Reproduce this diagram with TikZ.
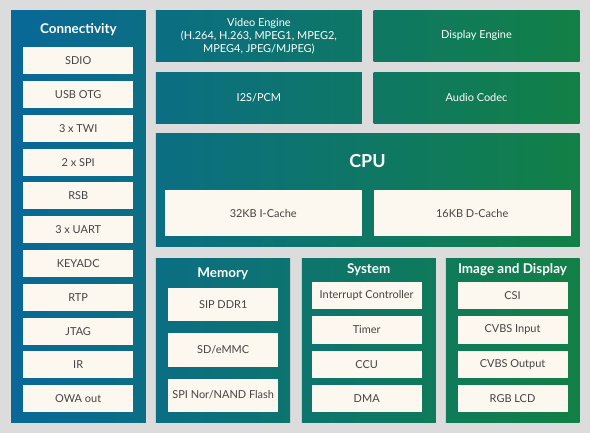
\documentclass[tikz,border=0pt]{standalone}
\usepackage{fontspec}
\setmainfont{Lato}
\definecolor{bg}{RGB}{220,220,220}
\definecolor{blueC}{RGB}{9,104,152}
\definecolor{greenC}{RGB}{18,128,70}
\definecolor{cream}{RGB}{253,248,239}
\definecolor{itemtxt}{RGB}{68,68,68}
\tikzset{
  panel/.style={draw=none, inner sep=0pt, anchor=north west},
  itembox/.style={fill=cream, draw=none, inner sep=0pt, anchor=north west, text=itemtxt, font=\fontsize{11}{13}\selectfont},
  ptitle/.style={text=white, font=\fontsize{13.5}{16}\selectfont\bfseries},
  ptext/.style={text=white, align=center, font=\fontsize{11}{13}\selectfont}
}
\begin{document}
\begin{tikzpicture}[x=1bp,y=-1bp]
\useasboundingbox (0,0) rectangle (590,433);
\fill[bg] (0,0) rectangle (590,433);
% panels
\node[panel, minimum width=134.7bp, minimum height=412.7bp, left color=blueC, right color=greenC!24!blueC] (conn) at (11,10) {};
\node[panel, minimum width=206bp, minimum height=51.3bp, left color=greenC!25!blueC, right color=greenC!62!blueC] (video) at (155.7,10) {};
\node[panel, minimum width=206bp, minimum height=51.3bp, left color=greenC!64!blueC, right color=greenC] (display) at (373.3,10) {};
\node[panel, minimum width=206bp, minimum height=51bp, left color=greenC!25!blueC, right color=greenC!62!blueC] (i2s) at (155.7,72) {};
\node[panel, minimum width=206bp, minimum height=51bp, left color=greenC!64!blueC, right color=greenC] (audio) at (373.3,72) {};
\node[panel, minimum width=423.6bp, minimum height=113.4bp, left color=greenC!25!blueC, right color=greenC] (cpu) at (155.7,133.3) {};
\node[panel, minimum width=134.3bp, minimum height=164.4bp, left color=greenC!25!blueC, right color=greenC!49!blueC] (memory) at (155.7,258.3) {};
\node[panel, minimum width=134bp, minimum height=164.4bp, left color=greenC!51!blueC, right color=greenC!75!blueC] (system) at (301.7,258.3) {};
\node[panel, minimum width=133.6bp, minimum height=164.4bp, left color=greenC!77!blueC, right color=greenC] (image) at (445.7,258.3) {};
% texts in top panels
\node[ptext] (videot) at (video.center) {Video Engine\\(H.264, H.263, MPEG1, MPEG2,\\MPEG4, JPEG/MJPEG)};
\node[ptext] (displayt) at (display.center) {Display Engine};
\node[ptext] (i2st) at (i2s.center) {I2S/PCM};
\node[ptext] (audiot) at (audio.center) {Audio Codec};
% titles
\node[ptitle] (connt) at (78.3,30) {Connectivity};
\node[ptitle, font=\fontsize{18}{20}\selectfont\bfseries] (cput) at (367.5,160.7) {CPU};
\node[ptitle] (memt) at (222.8,273.3) {Memory};
\node[ptitle] (syst) at (368.7,270) {System};
\node[ptitle] (imgt) at (512.5,270) {Image and Display};
% cpu caches
\node[itembox, minimum width=197.4bp, minimum height=46.3bp] (icache) at (164.3,190) {32KB I-Cache};
\node[itembox, minimum width=197.4bp, minimum height=46.3bp] (dcache) at (373.3,190) {16KB D-Cache};
% connectivity items
\foreach \t [count=\i from 0] in {SDIO,USB OTG,3 x TWI,2 x SPI,RSB,3 x UART,KEYADC,RTP,JTAG,IR,OWA out}{
  \node[itembox, minimum width=110bp, minimum height=27bp] (c\i) at (23,47+\i*33.8) {\t};
}
% memory items
\foreach \t [count=\i from 0] in {SIP DDR1,SD/eMMC,SPI Nor/NAND Flash}{
  \node[itembox, minimum width=110bp, minimum height=33.3bp] (m\i) at (168,287.7+\i*45.3) {\t};
}
% system items
\foreach \t [count=\i from 0] in {Interrupt Controller,Timer,CCU,DMA}{
  \node[itembox, minimum width=110.4bp, minimum height=27.3bp] (s\i) at (311.3,281.7+\i*34.33) {\t};
}
% image items
\foreach \t [count=\i from 0] in {CSI,CVBS Input,CVBS Output,RGB LCD}{
  \node[itembox, minimum width=110bp, minimum height=27.3bp] (g\i) at (457.3,281.7+\i*34.33) {\t};
}
\end{tikzpicture}
\end{document}
